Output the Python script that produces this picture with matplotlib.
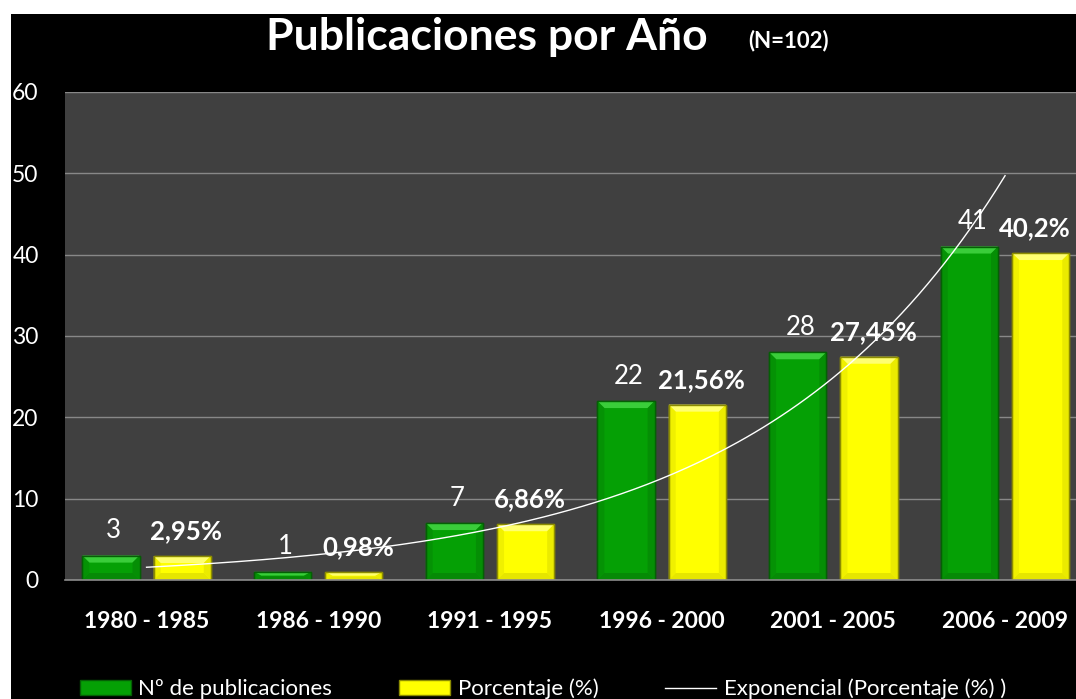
import numpy as np
import matplotlib
matplotlib.use("Agg")
import matplotlib.pyplot as plt
from matplotlib.patches import Rectangle, Polygon, Patch
from matplotlib.lines import Line2D

# ---- data ----
categories = ["1980 - 1985", "1986 - 1990", "1991 - 1995", "1996 - 2000", "2001 - 2005", "2006 - 2009"]
publicaciones = [3, 1, 7, 22, 28, 41]
porcentaje = [2.95, 0.98, 6.86, 21.56, 27.45, 40.2]
porcentaje_labels = ["2,95%", "0,98%", "6,86%", "21,56%", "27,45%", "40,2%"]
yticks = [0, 10, 20, 30, 40, 50, 60]
title_main = "Publicaciones por Año"
title_n = "(N=102)"
legend_labels = ["Nº de publicaciones", "Porcentaje (%)", "Exponencial (Porcentaje (%) )"]

plt.rcParams['font.family'] = ['Lato', 'DejaVu Sans']

W, H = 1076, 699
fig = plt.figure(figsize=(W / 100, H / 100), dpi=100, facecolor="white")

# black background (white strip at top and left)
fig.patches.append(Rectangle((11 / W, 0), 1 - 11 / W, (H - 14) / H, transform=fig.transFigure,
                             facecolor="black", edgecolor="none", zorder=-10))

ax_left, ax_right = 65, 1090.9
ax_top, ax_bot = 92, 580
ax = fig.add_axes([ax_left / W, (H - ax_bot) / H, (ax_right - ax_left) / W, (ax_bot - ax_top) / H])
ax.set_facecolor("#404040")
ax.set_xlim(-0.475, 5.5)
ax.set_ylim(0, 60)

for s in ["left", "right", "top"]:
    ax.spines[s].set_visible(False)
ax.spines["bottom"].set_color("#8c8c8c")
ax.spines["bottom"].set_linewidth(1.2)
ax.set_yticks(yticks)
ax.yaxis.grid(True, color="#888888", linewidth=1.0)
ax.set_axisbelow(True)
ax.tick_params(axis="y", length=0, pad=19, labelsize=16.5, labelcolor="white")
ax.tick_params(axis="x", length=0, pad=22, labelsize=16.5, labelcolor="white")
ax.set_xticks(range(len(categories)))
ax.set_xticklabels(categories, fontweight="bold")

x = np.arange(len(categories))
bw = 0.333
off = 0.2076

# pixel -> data scale for bevel
px_x = 1.0 / 171.7
px_y = 60.0 / (ax_bot - ax_top)


def bevel_bars(xc, heights, main, light, dark, side):
    bars = ax.bar(xc, heights, width=bw, color=main, edgecolor=dark, linewidth=1.0, zorder=2)
    for b in bars:
        x0 = b.get_x()
        x1 = x0 + b.get_width()
        h = b.get_height()
        by = min(7 * px_y, h / 2.2)
        bx = 7 * px_x
        # top bevel
        ax.add_patch(Polygon([(x0, h), (x1, h), (x1 - bx, h - by), (x0 + bx, h - by)],
                             closed=True, facecolor=light, edgecolor="none", zorder=2.1))
        # bottom bevel
        ax.add_patch(Polygon([(x0, 0), (x1, 0), (x1 - bx, by), (x0 + bx, by)],
                             closed=True, facecolor=side, edgecolor="none", zorder=2.1))
        # side bevels
        ax.add_patch(Polygon([(x0, 0), (x0, h), (x0 + bx, h - by), (x0 + bx, by)],
                             closed=True, facecolor=side, edgecolor="none", zorder=2.1, alpha=0.6))
        ax.add_patch(Polygon([(x1, 0), (x1, h), (x1 - bx, h - by), (x1 - bx, by)],
                             closed=True, facecolor=side, edgecolor="none", zorder=2.1, alpha=0.8))
        ax.add_patch(Rectangle((x0, 0), x1 - x0, h, facecolor="none", edgecolor=dark,
                               linewidth=1.0, zorder=2.2))
    return bars


gb = bevel_bars(x - off, publicaciones, "#05A005", "#3ACD3A", "#055F05", "#068A06")
yb = bevel_bars(x + off, porcentaje, "#FFFF00", "#FFFF70", "#8C8C00", "#E6E600")

# exponential trendline (least squares on log values, as in the spreadsheet)
b_, a_ = np.polyfit(x + 1, np.log(porcentaje), 1)
xt = np.linspace(0, 5, 200)
ax.plot(xt, np.exp(a_ + b_ * (xt + 1)), color="white", linewidth=1.0, zorder=3)

for xi, v in zip(x - off, publicaciones):
    ax.annotate(str(v), (xi, v), xytext=(2, 18), textcoords="offset points",
                ha="center", va="center", color="white", fontsize=18.5, zorder=4)
for i, (xi, v, lab) in enumerate(zip(x + off, porcentaje, porcentaje_labels)):
    dx = 3 if i < len(porcentaje) - 1 else -4
    ax.annotate(lab, (xi, v), xytext=(dx, 18), textcoords="offset points",
                ha="center", va="center", color="white", fontsize=18.5, fontweight="bold", zorder=4)

# titles
fig.text(487 / W, 1 - 37 / H, title_main, ha="center", va="center", color="white",
         fontsize=32, fontweight="bold")
fig.text(789 / W, 1 - 41 / H, title_n, ha="center", va="center", color="white",
         fontsize=16, fontweight="bold")

# legend
handles = [Patch(facecolor="#05A005", edgecolor="#055F05"),
           Patch(facecolor="#FFFF00", edgecolor="#8C8C00"),
           Line2D([0], [0], color="white", linewidth=1.0)]
leg = fig.legend(handles, legend_labels, loc="center", bbox_to_anchor=(543 / W, 1 - 689 / H),
                 ncol=3, frameon=False, fontsize=16, handlelength=2.3, handleheight=0.7,
                 handletextpad=0.35, columnspacing=3.0, labelcolor="white",
                 borderpad=0.0)

fig.savefig("out.png", dpi=100, facecolor=fig.get_facecolor())
